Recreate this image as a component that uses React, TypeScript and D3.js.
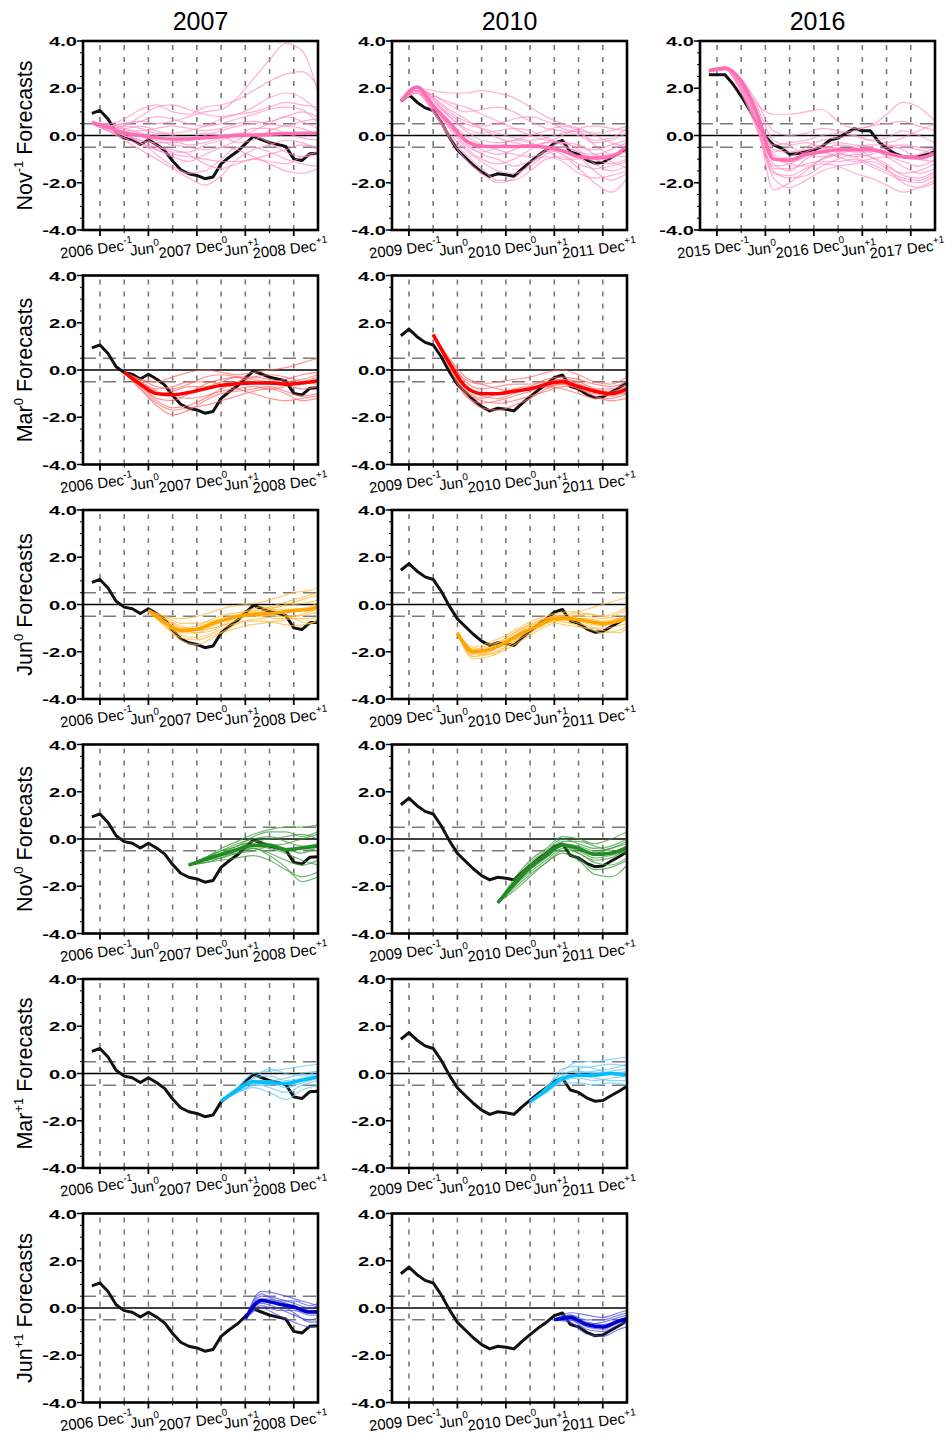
import React from "react"
import * as d3 from "d3"

// month index: 0 = Dec of the year before the event (Dec-1), -1 = Nov, 27 = Mar+2
const years = [2007, 2010, 2016]
const obsMonths = d3.range(-1, 28)

// observed index (3-month running mean), Nov(-1) .. Mar(+2)
const obs2007 = [0.94, 1.06, 0.7, 0.14, -0.11, -0.18, -0.38, -0.18, -0.38, -0.63, -1.08, -1.45, -1.62, -1.69, -1.83, -1.76, -1.2, -0.92, -0.68, -0.35, -0.04, -0.17, -0.3, -0.38, -0.46, -0.99, -1.06, -0.77, -0.75]
const obs2010 = [1.45, 1.73, 1.41, 1.17, 1.06, 0.56, -0.07, -0.61, -0.94, -1.27, -1.55, -1.73, -1.62, -1.66, -1.73, -1.41, -1.13, -0.85, -0.61, -0.32, -0.21, -0.7, -0.8, -1.03, -1.17, -1.14, -0.94, -0.75, -0.54]
const obs2016 = [2.57, 2.57, 2.57, 2.17, 1.67, 1.1, 0.53, -0.04, -0.4, -0.54, -0.79, -0.76, -0.69, -0.61, -0.47, -0.19, -0.11, 0.1, 0.29, 0.2, 0.2, -0.26, -0.54, -0.76, -0.9, -0.93, -0.9, -0.8, -0.69]

// forecast leads (rows)
const leadNames = ["Nov", "Mar", "Jun", "Nov", "Mar", "Jun"]
const leadSups = ["-1", "0", "0", "0", "+1", "+1"]
const leadStarts = [-1, 3, 6, 11, 15, 18]

// x tick labels
const xTickMonths = [0, 6, 12, 18, 24]
const xMinorMonths = [3, 9, 15, 21]
const xTickNames = ["Dec", "Jun", "Dec", "Jun", "Dec"]
const xTickSups = ["-1", "0", "0", "+1", "+1"]
const xTickYearOffsets = [-1, null, 0, null, 1]
const yTicks = [4, 2, 0, -2, -4]
const yMinor = d3.range(-4, 4.01, 0.5)
const gridMonths = d3.range(0, 25, 3)

// ensemble means and members, every 2 months from the start month (plus Mar+2)
const nov1_2007_mean = [0.55, 0.35, 0.1, 0.0, -0.1, -0.15, -0.15, -0.1, -0.05, 0.0, 0.02, 0.05, 0.08, 0.1, 0.1]
const nov1_2007_members = [
	[0.5, 0.4, 0.5, 0.6, 0.5, 0.6, 0.8, 1.0, 1.1, 1.6, 2.4, 3.2, 3.9, 3.6, 1.8],
	[0.5, 0.5, 0.7, 1.1, 1.3, 1.0, 0.9, 1.2, 1.3, 1.5, 1.9, 2.3, 2.6, 2.7, 2.1],
	[0.5, 0.3, 0.4, 0.8, 1.2, 1.3, 1.1, 0.9, 0.8, 0.9, 1.0, 1.2, 1.4, 1.3, 1.2],
	[0.5, 0.2, 0.0, -0.3, -0.6, -0.9, -1.1, -0.8, -0.5, -0.2, 0.2, 0.5, 0.8, 0.6, 0.3],
	[0.5, 0.2, -0.2, -0.6, -1.0, -1.4, -1.8, -2.1, -1.7, -1.0, -0.6, -0.4, -0.2, -0.3, -0.6],
	[0.5, 0.3, 0.1, -0.3, -0.8, -1.3, -1.6, -1.5, -1.0, -0.5, -0.5, -0.7, -1.0, -1.2, -1.3],
	[0.5, 0.3, 0.2, 0.2, 0.3, 0.4, 0.3, 0.2, 0.3, 0.5, 0.6, 0.5, 0.4, 0.6, 0.7],
	[0.5, 0.4, 0.1, 0.0, -0.2, -0.4, -0.5, -0.6, -0.5, -0.6, -0.9, -1.2, -1.5, -1.6, -1.4],
	[0.5, 0.4, 0.3, 0.1, 0.0, -0.2, -0.4, -0.3, -0.1, 0.1, 0.0, -0.3, -0.7, -0.9, -0.8],
	[0.5, 0.3, 0.0, -0.2, -0.3, -0.3, -0.2, 0.0, 0.2, 0.4, 0.5, 0.6, 0.8, 1.0, 0.8],
	[0.5, 0.4, 0.5, 0.6, 0.8, 0.7, 0.5, 0.4, 0.5, 0.7, 0.9, 1.1, 1.2, 1.1, 0.5],
	[0.5, 0.2, -0.1, -0.4, -0.6, -0.8, -0.9, -1.0, -1.1, -1.1, -1.0, -0.8, -0.6, -0.4, -0.5],
	[0.5, 0.3, 0.2, 0.0, -0.4, -0.7, -0.7, -0.4, -0.2, 0.0, 0.3, 0.3, 0.1, -0.1, -0.2],
	[0.5, 0.4, 0.4, 0.3, 0.1, 0.1, 0.2, 0.4, 0.7, 0.9, 1.2, 1.6, 1.8, 1.6, 1.0],
	[0.5, 0.2, 0.0, -0.2, -0.5, -0.6, -0.8, -1.2, -1.4, -1.2, -1.0, -1.1, -1.2, -0.9, -0.7],
	[0.5, 0.3, 0.3, 0.4, 0.2, 0.0, -0.1, 0.1, 0.0, -0.3, -0.2, 0.2, 0.4, 0.3, 0.0],
]

const nov1_2010_mean = [1.45, 2.05, 1.25, 0.55, -0.2, -0.45, -0.47, -0.47, -0.45, -0.5, -0.65, -0.9, -0.95, -0.9, -0.45]
const nov1_2010_members = [
	[1.45, 2.0, 1.9, 1.8, 1.8, 1.9, 1.8, 1.6, 1.2, 0.8, 0.5, 0.3, 0.1, 0.2, 0.4],
	[1.45, 2.0, 1.7, 1.3, 1.0, 1.1, 1.2, 1.0, 0.6, 0.3, 0.2, 0.0, -0.3, -0.2, 0.1],
	[1.45, 1.9, 1.3, 0.6, 0.0, -0.4, -0.6, -0.8, -0.9, -0.7, -0.5, -0.7, -1.0, -1.2, -1.0],
	[1.45, 1.8, 1.0, 0.0, -0.8, -1.4, -1.9, -1.9, -1.5, -1.0, -0.9, -1.4, -2.0, -2.4, -1.8],
	[1.45, 1.9, 1.2, 0.3, -0.5, -1.0, -1.2, -1.0, -0.6, -0.3, -0.3, -0.6, -1.2, -1.5, -1.3],
	[1.45, 2.0, 1.5, 0.9, 0.5, 0.3, 0.1, -0.1, -0.2, -0.1, 0.1, 0.2, 0.0, -0.3, -0.5],
	[1.45, 1.9, 1.4, 0.8, 0.3, 0.1, 0.2, 0.3, 0.2, -0.1, -0.4, -0.7, -0.8, -0.6, -0.3],
	[1.45, 1.8, 1.1, 0.1, -0.6, -1.1, -1.5, -1.6, -1.3, -0.8, -0.6, -0.9, -1.5, -1.9, -1.6],
	[1.45, 2.0, 1.6, 1.0, 0.6, 0.4, 0.5, 0.7, 0.8, 0.6, 0.3, 0.1, -0.2, -0.1, 0.3],
	[1.45, 1.9, 1.3, 0.5, -0.2, -0.6, -0.8, -0.6, -0.4, -0.5, -0.8, -1.2, -1.4, -1.3, -1.1],
	[1.45, 1.8, 1.0, -0.1, -1.0, -1.6, -2.0, -1.8, -1.2, -0.6, -0.3, -0.4, -0.8, -1.1, -1.4],
	[1.45, 2.0, 1.6, 1.1, 0.7, 0.3, -0.1, -0.3, -0.4, -0.3, 0.0, 0.3, 0.4, 0.3, 0.2],
	[1.45, 1.9, 1.5, 0.8, 0.2, -0.2, -0.3, -0.2, 0.0, 0.2, 0.4, 0.2, -0.4, -0.8, -0.9],
	[1.45, 1.8, 1.2, 0.4, -0.3, -0.8, -1.0, -1.3, -1.1, -0.9, -1.1, -1.6, -1.8, -1.7, -1.5],
	[1.45, 2.0, 1.7, 1.4, 1.2, 0.9, 0.6, 0.3, 0.0, -0.2, -0.3, -0.5, -0.6, -0.4, -0.2],
	[1.45, 1.9, 1.2, 0.4, -0.4, -0.7, -0.5, -0.2, -0.3, -0.6, -1.0, -1.0, -0.9, -0.8, -0.7],
]

const nov1_2016_mean = [2.75, 2.85, 2.3, 0.9, -1.0, -1.05, -0.8, -0.7, -0.6, -0.6, -0.6, -0.75, -0.9, -0.95, -0.75]
const nov1_2016_members = [
	[2.7, 2.9, 2.2, 1.3, 0.9, 0.9, 1.0, 1.1, 0.6, 0.3, 0.4, 0.9, 1.4, 1.2, 0.6],
	[2.7, 2.8, 2.0, 0.6, -0.4, -0.3, -0.2, 0.0, 0.1, 0.2, 0.4, 0.5, 0.6, 0.4, 0.2],
	[2.7, 2.8, 1.8, 0.2, -1.6, -1.7, -1.4, -1.2, -1.3, -1.6, -1.8, -2.1, -2.4, -2.2, -1.9],
	[2.7, 2.9, 2.1, 0.5, -2.3, -2.0, -1.5, -1.0, -0.8, -0.9, -1.2, -1.5, -1.8, -1.9, -1.6],
	[2.7, 2.8, 2.3, 1.0, -0.6, -0.7, -0.6, -0.4, -0.3, -0.4, -0.5, -0.7, -0.9, -0.8, -0.5],
	[2.7, 2.9, 2.4, 1.2, -0.2, -0.4, -0.3, -0.5, -0.7, -0.9, -0.8, -0.6, -0.5, -0.6, -0.8],
	[2.7, 2.8, 1.9, 0.4, -1.3, -1.2, -0.9, -0.6, -0.4, -0.5, -0.9, -1.3, -1.6, -1.5, -1.2],
	[2.7, 2.8, 2.2, 0.9, -0.9, -1.2, -1.3, -1.0, -0.8, -0.6, -0.5, -0.9, -1.3, -1.6, -1.4],
	[2.7, 2.9, 2.3, 0.7, -1.0, -0.9, -0.5, -0.2, -0.1, 0.0, -0.2, -0.3, -0.1, 0.2, 0.5],
	[2.7, 2.8, 2.0, 0.3, -1.8, -2.2, -1.9, -1.5, -1.3, -1.2, -1.1, -1.4, -2.0, -2.2, -2.0],
	[2.7, 2.9, 2.2, 0.8, -0.7, -0.5, -0.8, -0.9, -0.7, -0.5, -0.4, -0.4, -0.6, -1.0, -1.1],
	[2.7, 2.8, 2.1, 0.6, -1.2, -1.5, -1.0, -0.7, -0.9, -1.1, -1.0, -0.9, -1.1, -1.3, -1.0],
	[2.7, 2.9, 2.4, 1.4, 0.2, 0.0, 0.1, 0.3, 0.2, 0.0, -0.2, -0.1, 0.2, 0.0, -0.3],
	[2.7, 2.8, 1.9, 0.3, -1.5, -1.8, -1.7, -1.3, -1.0, -0.8, -0.9, -1.2, -1.7, -1.8, -1.5],
	[2.7, 2.9, 2.2, 0.8, -0.8, -1.0, -0.7, -0.5, -0.5, -0.7, -0.7, -0.5, -0.4, -0.5, -0.6],
	[2.7, 2.8, 2.0, 0.5, -1.4, -1.4, -1.2, -1.1, -1.1, -1.0, -1.3, -1.6, -1.9, -2.0, -1.7],
]

const mar0_2007_mean = [-0.1, -0.6, -1.0, -1.05, -0.95, -0.8, -0.65, -0.58, -0.55, -0.55, -0.6, -0.55, -0.45]
const mar0_2007_members = [
	[-0.1, -0.4, -0.5, -0.3, -0.1, 0.0, -0.1, -0.2, -0.1, 0.0, 0.1, 0.3, 0.5],
	[-0.1, -0.8, -1.5, -1.9, -1.7, -1.3, -1.0, -0.9, -0.8, -0.7, -0.9, -1.1, -1.0],
	[-0.1, -0.6, -1.2, -1.3, -1.0, -0.6, -0.4, -0.3, -0.4, -0.5, -0.4, -0.2, -0.1],
	[-0.1, -0.5, -0.8, -0.7, -0.5, -0.5, -0.6, -0.8, -1.0, -1.2, -1.3, -1.2, -1.1],
	[-0.1, -0.7, -1.3, -1.6, -1.5, -1.2, -0.8, -0.5, -0.3, -0.2, -0.3, -0.5, -0.6],
	[-0.1, -0.6, -1.0, -0.9, -0.7, -0.7, -0.5, -0.3, -0.3, -0.4, -0.6, -0.8, -0.7],
	[-0.1, -0.5, -0.9, -1.1, -1.2, -1.1, -0.9, -0.8, -0.7, -0.8, -0.7, -0.5, -0.3],
	[-0.1, -0.8, -1.4, -1.7, -1.6, -1.5, -1.3, -1.1, -0.9, -0.8, -1.0, -1.3, -1.2],
	[-0.1, -0.4, -0.7, -0.8, -0.6, -0.3, -0.2, -0.3, -0.5, -0.6, -0.5, -0.4, -0.2],
]

const mar0_2010_mean = [1.5, 0.3, -0.7, -1.0, -1.0, -0.9, -0.8, -0.6, -0.5, -0.7, -0.9, -1.0, -0.8]
const mar0_2010_members = [
	[1.5, 0.2, -1.0, -1.6, -1.7, -1.5, -1.2, -0.8, -0.6, -0.8, -1.1, -1.3, -1.2],
	[1.5, 0.4, -0.4, -0.6, -0.5, -0.4, -0.3, -0.1, 0.0, -0.2, -0.5, -0.6, -0.3],
	[1.5, 0.3, -0.7, -1.1, -1.2, -1.0, -0.8, -0.7, -0.6, -0.8, -1.0, -1.1, -0.9],
	[1.5, 0.1, -1.1, -1.4, -1.3, -1.1, -0.9, -0.6, -0.4, -0.5, -0.8, -1.0, -1.0],
	[1.5, 0.4, -0.5, -0.8, -0.7, -0.6, -0.6, -0.5, -0.4, -0.6, -0.8, -0.8, -0.6],
	[1.5, 0.3, -0.8, -1.2, -1.0, -0.8, -0.7, -0.7, -0.8, -1.0, -1.2, -1.2, -1.0],
	[1.5, 0.2, -0.9, -1.3, -1.4, -1.3, -1.1, -0.9, -0.7, -0.7, -0.9, -0.9, -0.7],
	[1.5, 0.5, -0.3, -0.6, -0.8, -0.9, -0.7, -0.4, -0.3, -0.4, -0.6, -0.7, -0.5],
]

const jun0_2007_mean = [-0.25, -0.75, -1.1, -1.05, -0.8, -0.6, -0.45, -0.4, -0.35, -0.25, -0.2, -0.1]
const jun0_2007_members = [
	[-0.25, -0.5, -0.6, -0.5, -0.3, -0.1, 0.0, 0.1, 0.3, 0.5, 0.6, 0.7],
	[-0.25, -0.9, -1.5, -1.7, -1.4, -1.0, -0.7, -0.6, -0.5, -0.5, -0.4, -0.3],
	[-0.25, -0.7, -1.0, -0.9, -0.6, -0.4, -0.3, -0.2, -0.1, 0.0, 0.1, 0.2],
	[-0.25, -0.8, -1.3, -1.4, -1.2, -0.9, -0.7, -0.7, -0.8, -0.9, -0.8, -0.7],
	[-0.25, -0.6, -0.9, -1.1, -1.0, -0.8, -0.5, -0.3, -0.2, -0.2, -0.1, 0.1],
	[-0.25, -0.8, -1.2, -1.2, -0.9, -0.6, -0.5, -0.5, -0.6, -0.5, -0.3, -0.2],
	[-0.25, -0.7, -1.1, -1.0, -0.7, -0.5, -0.4, -0.3, -0.1, 0.1, 0.3, 0.4],
	[-0.25, -0.9, -1.4, -1.5, -1.3, -1.1, -0.9, -0.8, -0.7, -0.6, -0.6, -0.5],
	[-0.25, -0.5, -0.8, -0.8, -0.7, -0.6, -0.4, -0.2, 0.0, 0.2, 0.4, 0.5],
	[-0.25, -0.6, -1.0, -1.2, -1.1, -0.7, -0.3, -0.1, -0.3, -0.6, -0.8, -0.6],
]

const jun0_2010_mean = [-1.2, -2.0, -1.9, -1.6, -1.2, -0.9, -0.6, -0.6, -0.7, -0.8, -0.7, -0.6]
const jun0_2010_members = [
	[-1.2, -2.2, -2.1, -1.8, -1.4, -1.0, -0.7, -0.8, -1.0, -1.2, -1.1, -0.9],
	[-1.2, -1.8, -1.6, -1.3, -0.9, -0.6, -0.4, -0.3, -0.4, -0.5, -0.3, -0.1],
	[-1.2, -2.1, -2.0, -1.6, -1.1, -0.7, -0.5, -0.6, -0.8, -0.9, -0.7, -0.5],
	[-1.2, -2.3, -2.2, -1.9, -1.5, -1.1, -0.8, -0.9, -1.0, -1.0, -0.9, -0.8],
	[-1.2, -1.9, -1.8, -1.4, -1.0, -0.7, -0.5, -0.4, -0.2, 0.0, 0.2, 0.3],
	[-1.2, -2.0, -1.9, -1.7, -1.3, -0.9, -0.6, -0.6, -0.6, -0.7, -0.6, -0.4],
	[-1.2, -2.2, -2.0, -1.5, -1.0, -0.8, -0.6, -0.7, -0.9, -1.1, -1.2, -1.0],
	[-1.2, -1.9, -1.7, -1.5, -1.2, -0.8, -0.5, -0.5, -0.5, -0.6, -0.4, -0.2],
	[-1.2, -2.1, -2.1, -1.8, -1.3, -0.9, -0.7, -0.5, -0.4, -0.5, -0.6, -0.6],
]

const nov0_2007_mean = [-1.1, -0.87, -0.66, -0.45, -0.28, -0.28, -0.45, -0.38, -0.28]
const nov0_2007_members = [
	[-1.1, -0.8, -0.4, -0.1, 0.2, 0.4, 0.5, 0.5, 0.6],
	[-1.1, -1.0, -0.9, -0.8, -0.7, -0.9, -1.3, -1.6, -1.4],
	[-1.1, -0.9, -0.6, -0.3, -0.1, 0.0, 0.1, 0.2, 0.0],
	[-1.1, -0.9, -0.8, -0.6, -0.4, -0.6, -0.9, -1.1, -0.9],
	[-1.1, -0.8, -0.5, -0.2, 0.0, 0.1, -0.1, -0.3, -0.2],
	[-1.1, -1.0, -0.8, -0.5, -0.4, -0.7, -1.2, -1.8, -1.6],
	[-1.1, -0.8, -0.6, -0.4, -0.2, -0.2, -0.4, -0.6, -0.3],
	[-1.1, -0.9, -0.7, -0.5, -0.3, -0.4, -0.6, -0.9, -1.1],
	[-1.1, -0.8, -0.5, -0.3, 0.1, 0.3, 0.3, 0.1, 0.3],
	[-1.1, -0.9, -0.7, -0.6, -0.5, -0.3, -0.2, 0.0, 0.2],
	[-1.1, -0.9, -0.6, -0.4, -0.1, -0.2, -0.5, -0.4, -0.5],
]

const nov0_2010_mean = [-2.7, -1.9, -1.2, -0.7, -0.25, -0.4, -0.65, -0.6, -0.35]
const nov0_2010_members = [
	[-2.7, -1.7, -0.9, -0.4, 0.1, 0.0, -0.2, 0.0, 0.3],
	[-2.7, -2.1, -1.5, -1.0, -0.5, -0.8, -1.3, -1.2, -0.9],
	[-2.7, -1.8, -1.1, -0.6, -0.2, -0.3, -0.5, -0.4, -0.1],
	[-2.7, -2.0, -1.4, -0.9, -0.4, -0.6, -1.0, -1.1, -0.8],
	[-2.7, -1.8, -1.0, -0.5, 0.0, -0.2, -0.4, -0.3, 0.0],
	[-2.7, -2.0, -1.3, -0.8, -0.3, -0.5, -0.8, -0.7, -0.5],
	[-2.7, -1.9, -1.2, -0.6, -0.1, -0.1, -0.3, -0.5, -0.6],
	[-2.7, -2.2, -1.6, -1.0, -0.6, -0.9, -1.5, -1.6, -1.1],
	[-2.7, -1.9, -1.1, -0.7, -0.2, -0.4, -0.6, -0.4, -0.2],
	[-2.7, -2.0, -1.2, -0.6, -0.3, -0.6, -0.9, -0.8, -0.4],
]

const mar1_2007_mean = [-1.17, -0.7, -0.35, -0.38, -0.42, -0.28, -0.14]
const mar1_2007_members = [
	[-1.2, -0.6, 0.0, 0.1, 0.2, 0.3, 0.4],
	[-1.2, -0.8, -0.6, -0.8, -1.1, -0.7, -0.5],
	[-1.2, -0.7, -0.3, -0.3, -0.2, 0.0, 0.1],
	[-1.2, -0.7, -0.4, -0.6, -0.8, -0.5, -0.3],
	[-1.2, -0.6, -0.2, -0.1, -0.3, -0.2, 0.0],
	[-1.2, -0.8, -0.5, -0.4, -0.6, -0.4, -0.2],
	[-1.2, -0.7, -0.2, 0.2, 0.0, -0.1, 0.1],
	[-1.2, -0.8, -0.5, -0.5, -0.4, -0.3, -0.1],
]

const mar1_2010_mean = [-1.2, -0.7, -0.21, -0.07, -0.07, 0.0, -0.07]
const mar1_2010_members = [
	[-1.2, -0.6, 0.1, 0.5, 0.5, 0.6, 0.7],
	[-1.2, -0.8, -0.4, -0.4, -0.5, -0.4, -0.5],
	[-1.2, -0.7, -0.1, 0.2, 0.3, 0.4, 0.3],
	[-1.2, -0.7, -0.3, -0.2, -0.3, -0.2, -0.1],
	[-1.2, -0.6, 0.0, 0.1, 0.0, 0.1, 0.2],
	[-1.2, -0.8, -0.3, -0.1, -0.2, -0.3, -0.3],
	[-1.2, -0.6, 0.2, 0.3, 0.2, 0.0, 0.1],
	[-1.2, -0.7, -0.2, 0.0, 0.1, 0.2, 0.4],
]

const jun1_2007_mean = [-0.45, 0.32, 0.18, 0.04, -0.17, -0.17]
const jun1_2007_members = [
	[-0.45, 0.7, 0.6, 0.4, 0.2, 0.1],
	[-0.45, 0.0, -0.3, -0.6, -0.8, -0.8],
	[-0.45, 0.4, 0.3, 0.1, -0.1, -0.1],
	[-0.45, 0.2, 0.0, -0.3, -0.5, -0.4],
	[-0.45, 0.5, 0.4, 0.2, 0.0, 0.1],
	[-0.45, 0.1, -0.1, -0.1, -0.3, -0.3],
	[-0.45, 0.3, 0.2, -0.2, -0.6, -0.6],
	[-0.45, 0.6, 0.3, 0.3, 0.1, 0.2],
]

const jun1_2010_mean = [-0.5, -0.4, -0.7, -0.8, -0.55, -0.45]
const jun1_2010_members = [
	[-0.5, -0.2, -0.3, -0.4, -0.2, -0.1],
	[-0.5, -0.6, -1.1, -1.2, -0.9, -0.8],
	[-0.5, -0.4, -0.6, -0.7, -0.5, -0.4],
	[-0.5, -0.5, -0.9, -1.0, -0.7, -0.6],
	[-0.5, -0.3, -0.5, -0.5, -0.3, -0.2],
	[-0.5, -0.5, -0.8, -0.9, -0.6, -0.5],
	[-0.5, -0.3, -0.7, -0.6, -0.4, -0.3],
]

const panels = [
	{ lead: 0, col: 0, obs: obs2007, mean: nov1_2007_mean, members: nov1_2007_members },
	{ lead: 0, col: 1, obs: obs2010, mean: nov1_2010_mean, members: nov1_2010_members },
	{ lead: 0, col: 2, obs: obs2016, mean: nov1_2016_mean, members: nov1_2016_members },
	{ lead: 1, col: 0, obs: obs2007, mean: mar0_2007_mean, members: mar0_2007_members },
	{ lead: 1, col: 1, obs: obs2010, mean: mar0_2010_mean, members: mar0_2010_members },
	{ lead: 2, col: 0, obs: obs2007, mean: jun0_2007_mean, members: jun0_2007_members },
	{ lead: 2, col: 1, obs: obs2010, mean: jun0_2010_mean, members: jun0_2010_members },
	{ lead: 3, col: 0, obs: obs2007, mean: nov0_2007_mean, members: nov0_2007_members },
	{ lead: 3, col: 1, obs: obs2010, mean: nov0_2010_mean, members: nov0_2010_members },
	{ lead: 4, col: 0, obs: obs2007, mean: mar1_2007_mean, members: mar1_2007_members },
	{ lead: 4, col: 1, obs: obs2010, mean: mar1_2010_mean, members: mar1_2010_members },
	{ lead: 5, col: 0, obs: obs2007, mean: jun1_2007_mean, members: jun1_2007_members },
	{ lead: 5, col: 1, obs: obs2010, mean: jun1_2010_mean, members: jun1_2010_members },
]

// styling
const meanColors = ["#ff6eb4", "#ff0000", "#ffa500", "#228b22", "#00bfff", "#0000cd"]
const memberColors = ["#ff8cc4", "#ff6a6a", "#ffb733", "#3a9a3a", "#5cc8f2", "#4a4ae6"]
const colX = [83, 392, 700]
const rowTop = 41
const rowStep = 234.5
const W = 235
const H = 189
const FONT = "'Liberation Sans', Arial, Helvetica, sans-serif"

const fcTimes = (start) => {
	const t = d3.range(start, 27, 2)
	if (t[t.length - 1] !== 27) t.push(27)
	return t
}

const Panel = ({ p, idx }) => {
	const x = d3.scaleLinear().domain([-2.1, 27]).range([0, W])
	const y = d3.scaleLinear().domain([-4, 4]).range([H, 0])
	const times = fcTimes(leadStarts[p.lead])
	const fcLine = d3
		.line()
		.x((d, i) => x(times[i]))
		.y((d) => y(d))
		.curve(d3.curveMonotoneX)
	const obsLine = d3
		.line()
		.x((d, i) => x(obsMonths[i]))
		.y((d) => y(d))
	const year = years[p.col]
	const clipId = `clip-${idx}`

	return (
		<g transform={`translate(${colX[p.col]}, ${rowTop + p.lead * rowStep})`}>
			<defs>
				<clipPath id={clipId}>
					<rect x={0} y={0} width={W} height={H} />
				</clipPath>
			</defs>
			<rect x={0} y={0} width={W} height={H} fill="#fff" />

			{/* grid */}
			{gridMonths.map((m) => (
				<line key={m} x1={x(m)} x2={x(m)} y1={4} y2={H} stroke="#7a7a7a" strokeWidth={1.6} strokeDasharray="5 7" />
			))}
			{[0.5, -0.5].map((v) => (
				<line key={v} x1={0} x2={W} y1={y(v)} y2={y(v)} stroke="#7a7a7a" strokeWidth={1.6} strokeDasharray="13 7" />
			))}
			<line x1={0} x2={W} y1={y(0)} y2={y(0)} stroke="#000" strokeWidth={1.4} />

			<g clipPath={`url(#${clipId})`}>
				<path d={obsLine(p.obs)} fill="none" stroke="#111" strokeWidth={3} strokeLinejoin="round" />
				{p.members.map((m, i) => (
					<path key={i} d={fcLine(m)} fill="none" stroke={memberColors[p.lead]} strokeOpacity={0.7} strokeWidth={1.2} />
				))}
				<path d={fcLine(p.mean)} fill="none" stroke={meanColors[p.lead]} strokeWidth={3.5} strokeLinejoin="round" />
			</g>

			<rect x={0} y={0} width={W} height={H} fill="none" stroke="#000" strokeWidth={2.6} />

			{/* y axis */}
			{yMinor.map((v) => (
				<line key={v} x1={-3} x2={0} y1={y(v)} y2={y(v)} stroke="#000" strokeWidth={1} />
			))}
			{yTicks.map((v) => (
				<g key={v}>
					<line x1={-6} x2={0} y1={y(v)} y2={y(v)} stroke="#000" strokeWidth={1.5} />
					<text transform={`translate(-6, ${y(v) + 5}) scale(1.55, 1)`} textAnchor="end" fontSize={13} fontWeight="bold" fontFamily={FONT}>
						{v.toFixed(1)}
					</text>
				</g>
			))}

			{/* x axis */}
			{xMinorMonths.map((m) => (
				<line key={m} x1={x(m)} x2={x(m)} y1={H} y2={H + 3} stroke="#000" strokeWidth={1} />
			))}
			{xTickMonths.map((m, i) => (
				<g key={m}>
					<line x1={x(m)} x2={x(m)} y1={H} y2={H + 6} stroke="#000" strokeWidth={1.8} />
					<text transform={`translate(${x(m) - 3}, ${H + 24}) rotate(-7)`} textAnchor="middle" fontSize={15} fontFamily={FONT}>
						{xTickYearOffsets[i] !== null ? `${year + xTickYearOffsets[i]} ` : ""}
						{xTickNames[i]}
						<tspan dy={-7} fontSize={10}>
							{xTickSups[i]}
						</tspan>
					</text>
				</g>
			))}

			{/* row title */}
			{p.col === 0 && (
				<text transform={`translate(-51, ${H / 2}) rotate(-90)`} textAnchor="middle" fontSize={21.5} fontFamily={FONT}>
					{leadNames[p.lead]}
					<tspan dy={-9} fontSize={13}>
						{leadSups[p.lead]}
					</tspan>
					<tspan dy={9}> Forecasts</tspan>
				</text>
			)}
			{p.lead === 0 && (
				<text x={W / 2} y={-11} textAnchor="middle" fontSize={25} fontFamily={FONT}>
					{year}
				</text>
			)}
		</g>
	)
}

export default function App() {
	return (
		<svg width={952} height={1442} style={{ position: "absolute", left: 0, top: 0, background: "#fff" }}>
			{panels.map((p, i) => (
				<Panel key={i} p={p} idx={i} />
			))}
		</svg>
	)
}
